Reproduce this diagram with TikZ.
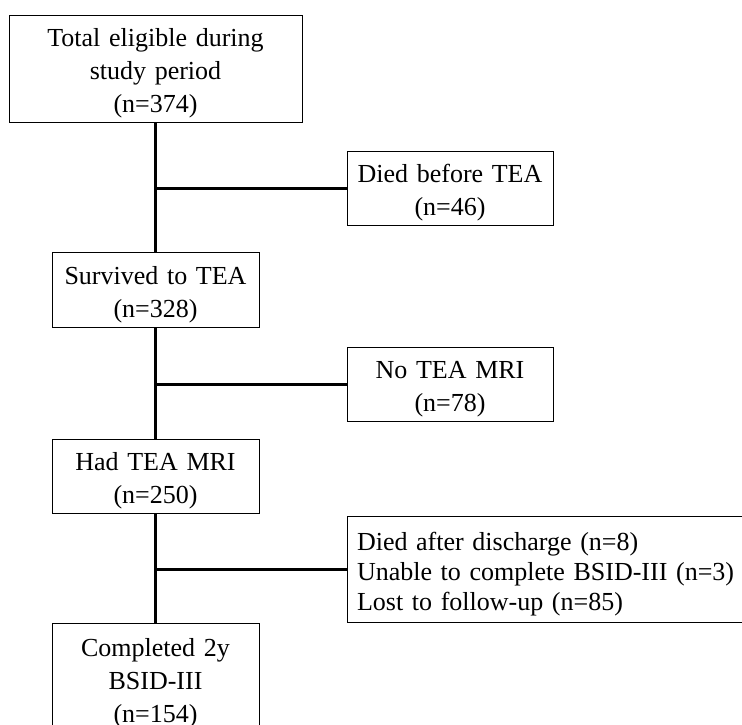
\documentclass[tikz,border=0pt]{standalone}
\usepackage{fontspec}
\setmainfont{Liberation Serif}
\usetikzlibrary{positioning}

\begin{document}
\begin{tikzpicture}[
    x=1pt, y=-1pt,
    box/.style={draw, line width=1pt, align=center, inner sep=0pt, font=\fontsize{26}{33}\selectfont,
        execute at begin node=\rule{0pt}{28pt}},
    listbox/.style={draw, line width=1pt, align=left, inner xsep=10pt, inner ysep=0pt, font=\fontsize{26}{30}\selectfont,
        execute at begin node=\rule{0pt}{28pt}},
    trunk/.style={line width=3pt}
]
\clip (0,0) rectangle (742,724);
\fill[white] (0,0) rectangle (742,724);

\node[box, text width=293pt, minimum height=107pt] (total) at (155.5,68.5) {Total eligible during\\study period\\(n=374)};
\node[box, text width=206pt, minimum height=74pt] (diedtea) at (450,188) {Died before TEA\\(n=46)};
\node[box, text width=207pt, minimum height=75pt] (surv) at (155.5,289.5) {Survived to TEA\\(n=328)};
\node[box, text width=206pt, minimum height=74pt] (nomri) at (450,384) {No TEA MRI\\(n=78)};
\node[box, text width=207pt, minimum height=74pt] (mri) at (155.5,476) {Had TEA MRI\\(n=250)};
\node[listbox, text width=385pt, minimum height=106pt] (lost) at (549.5,569) {Died after discharge (n=8)\\Unable to complete BSID-III (n=3)\\Lost to follow-up (n=85)};
\node[box, text width=207pt, minimum height=110pt] (done) at (155.5,678) {Completed 2y\\BSID-III\\(n=154)};

% trunk and side branches
\draw[trunk] (total.south) -- (surv.north);
\draw[trunk] (surv.south) -- (mri.north);
\draw[trunk] (mri.south) -- (done.north);
\draw[trunk] (total.south |- diedtea.west) -- (diedtea.west);
\draw[trunk] (surv.south |- nomri.west) -- (nomri.west);
\draw[trunk] (mri.south |- lost.west) -- (lost.west);
\end{tikzpicture}
\end{document}
